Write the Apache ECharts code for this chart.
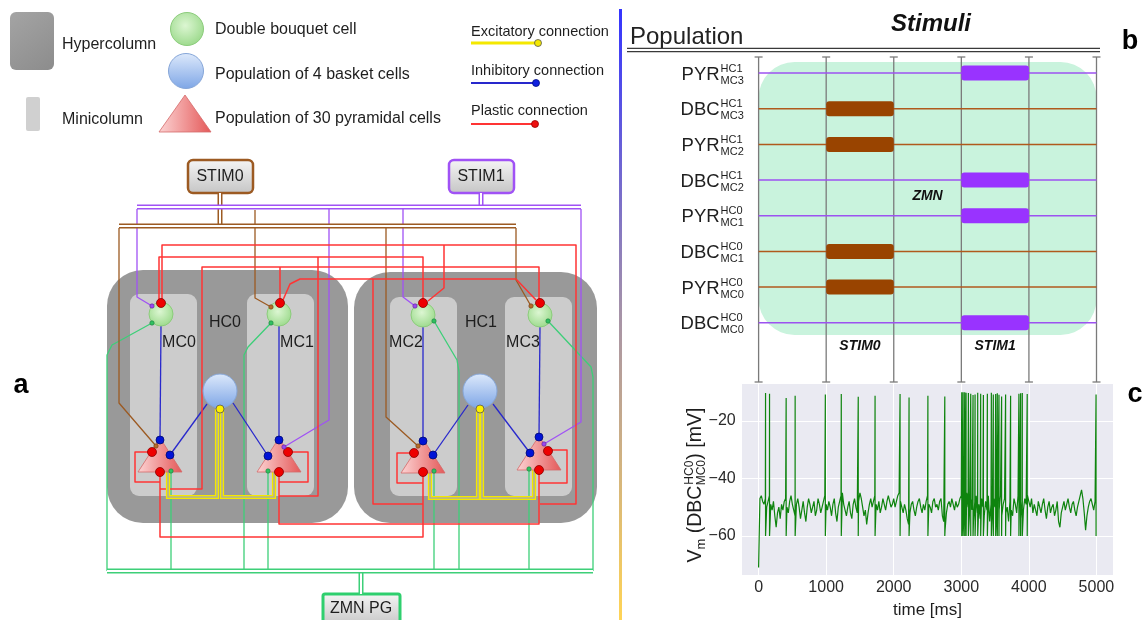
<!DOCTYPE html>
<html><head><meta charset="utf-8">
<script src="https://cdn.jsdelivr.net/npm/echarts@6/dist/echarts.min.js"></script>
<style>html,body{margin:0;padding:0;background:#fff}#c{width:1144px;height:620px}</style>
</head><body><div id="c"></div>
<script>
// ================= DATA =================
// ---- Panel b: stimulation protocol ----
const timeTicks = [0, 1000, 2000, 3000, 4000, 5000];
const rowPopulation = ['PYR', 'DBC', 'PYR', 'DBC', 'PYR', 'DBC', 'PYR', 'DBC'];
const rowHC = ['HC1', 'HC1', 'HC1', 'HC1', 'HC0', 'HC0', 'HC0', 'HC0'];
const rowMC = ['MC3', 'MC3', 'MC2', 'MC2', 'MC1', 'MC1', 'MC0', 'MC0'];
const rowStimulus = [1, 0, 0, 1, 1, 0, 0, 1];          // 0 = STIM0, 1 = STIM1
const stimNames = ['STIM0', 'STIM1'];
const stimStart = [1000, 3000];
const stimEnd = [2000, 4000];
const zmnSpan = [0, 5000];

// ---- Panel c: membrane potential of DBC HC0 MC0 ----
const baselineStepMs = 20;
const vmBaseline = [
  -71,-47,-46,-48,-49,-47,-50,-48,-46,-49, -51,-48,-53,-57,-52,-50,-54,-49,-51,-48,
  -47,-50,-52,-48,-46,-49,-51,-53,-49,-47, -50,-54,-51,-48,-52,-55,-50,-47,-49,-52,
  -50,-48,-53,-51,-47,-49,-52,-50,-48,-46,
  -49,-51,-48,-50,-53,-49,-47,-52,-55,-50, -48,-46,-45,-49,-51,-53,-50,-48,-52,-54,
  -49,-47,-50,-52,-48,-45,-47,-50,-53,-51, -56,-52,-49,-47,-50,-48,-46,-49,-51,-48,
  -52,-50,-47,-49,-51,-48,-46,-48,-50,-49,
  -47,-50,-48,-46,-45,-48,-50,-52,-49,-51, -54,-56,-52,-49,-48,-51,-53,-50,-48,-47,
  -50,-52,-49,-51,-48,-46,-49,-50,-52,-48, -47,-50,-49,-51,-48,-47,-53,-55,-58,-52,
  -49,-48,-50,-47,-49,-51,-48,-50,-49,-47,
  -46,-49,-52,-48,-45,-50,-53,-47,-51,-55, -48,-46,-52,-49,-54,-47,-50,-53,-48,-51,
  -46,-55,-49,-52,-47,-50,-54,-48,-51,-46, -53,-49,-47,-52,-50,-55,-48,-51,-53,-47,
  -49,-52,-46,-50,-54,-48,-51,-47,-49,-46,
  -48,-50,-47,-52,-49,-51,-53,-48,-50,-52, -49,-47,-51,-54,-50,-48,-52,-50,-49,-53,
  -51,-48,-55,-57,-52,-50,-48,-51,-49,-47, -50,-52,-49,-48,-51,-53,-50,-48,-46,-44,
  -47,-52,-58,-53,-50,-48,-47,-49,-51,-48
];
const spikeTimes = [103, 162, 408, 541, 988, 1224, 1475, 1724, 2094, 2227, 2506, 2756,
  3007, 3027, 3051, 3071, 3105, 3140, 3174, 3204, 3243, 3287, 3327, 3386, 3445, 3474,
  3509, 3533, 3558, 3597, 3656, 3730, 3853, 3878, 3903, 3976, 4995];
const spikePeaks = [-10.3, -10.5, -12, -11.2, -10.8, -10.6, -11.6, -11.2, -10.6, -11.8, -11.2, -11.5,
  -10, -10, -10, -10.2, -10.3, -10.5, -11, -10.8, -10.2, -10.5, -11, -10.5, -10.2, -10.8,
  -10.6, -10.4, -10.9, -11.5, -10.8, -11.2, -10.5, -10.4, -10.3, -10.6, -10.8];
const spikeReset = -60;
const vmTicks = [-20, -40, -60];

// ---- Panel a: network diagram geometry (page pixel frame) ----
const hypercolumnBoxes = [[107,270,241,253],[354,272,243,251]];
const minicolumnBoxes = [[130,294,67,202],[247,294,67,202],[390,297,67,199],[505,297,67,199]];
const dbcCells = [[161,314],[279,314],[423,315],[540,315]];
const basketCells = [[220,391],[480,391]];
const pyramidalApexes = [[160,438],[279,438],[423,439],[539,436]];
const stimBoxes = [[188,160,65,33],[449,160,65,33]];
const zmnBoxes = [[323,594,77,32]];

const stim0Bus = [[[220,193],[220,226]], [[119,226],[516,226]]];
const stim1Bus = [[[481,193],[481,207]], [[137,207],[581,207]]];
const zmnBus = [[[361,571],[361,594]], [[107,571],[593,571]]];
const stim0Wires = [
  [[119,228],[119,403],[156,446]],
  [[255,210],[255,298],[271,307]],
  [[386,228],[386,417],[418,446]],
  [[516,228],[516,280],[531,306]]
];
const stim1Wires = [
  [[137,209],[137,297],[152,306]],
  [[329,209],[329,420],[284,447]],
  [[403,209],[403,297],[415,306]],
  [[581,209],[581,422],[544,444]]
];
const excitatoryWires = [
  [[168,472],[168,497],[217,497],[217,409]],
  [[274,472],[274,497],[222,497],[222,409]],
  [[430,472],[430,498],[478,498],[478,409]],
  [[534,470],[534,498],[482,498],[482,409]]
];
const inhibitoryWires = [
  [[161,326],[160,440]], [[279,326],[279,440]], [[423,327],[423,441]], [[540,327],[539,437]],
  [[207,404],[170,455]], [[233,403],[268,456]], [[468,405],[433,455]], [[493,404],[530,453]]
];
const plasticWires = [
  [[162,303],[162,245],[576,245],[576,504],[540,504]],
  [[444,245],[444,288],[428,301]],
  [[159,303],[159,257],[423,257],[423,303]],
  [[318,257],[318,496],[279,496]],
  [[160,489],[202,489],[202,267],[539,267],[539,303]],
  [[280,267],[280,303]],
  [[423,504],[373,504],[373,279],[516,279],[536,300]],
  [[373,279],[300,279],[290,284],[283,300]],
  [[160,472],[160,537],[423,537],[423,472]],
  [[279,472],[279,524],[539,524],[539,470]],
  [[152,452],[135,452],[135,482],[160,482]],
  [[288,452],[308,452],[308,482],[279,482]],
  [[414,453],[397,453],[397,483],[423,483]],
  [[548,450],[567,450],[567,483],[539,483]]
];
const zmnWires = [
  [[152,323],[112,345],[107,355],[107,571]],
  [[171,471],[171,571]],
  [[271,323],[248,347],[244,355],[244,571]],
  [[268,471],[268,571]],
  [[434,471],[434,571]],
  [[434,321],[457,360],[459,372],[459,571]],
  [[529,469],[529,571]],
  [[548,321],[591,367],[593,377],[593,571]]
];
const plasticSynapses = [[161,303],[280,303],[423,303],[540,303],[152,452],[160,472],[288,452],[279,472],[414,453],[423,472],[548,451],[539,470]];
const inhibitorySynapses = [[160,440],[170,455],[279,440],[268,456],[423,441],[433,455],[539,437],[530,453]];
const excitatorySynapses = [[220,409],[480,409]];
const zmnTerminals = [[152,323],[271,323],[434,321],[548,321],[171,471],[268,471],[434,471],[529,469]];
const stim0Terminals = [[156,446],[271,307],[418,446],[531,306]];
const stim1Terminals = [[152,306],[284,447],[415,306],[544,444]];

// legend
const legendHypercolumn = [[10,12,44,58]];
const legendMinicolumn = [[26,97,14,34]];
const legendDbc = [[187,29]];
const legendBasket = [[186,71]];
const legendPyramidal = [[185,95]];
const legendExcitatory = [[[471,43],[538,43]]];
const legendInhibitory = [[[471,83],[536,83]]];
const legendPlastic = [[[471,124],[535,124]]];
const legendLabels = [['Hypercolumn',62,45],['Minicolumn',62,120],['Double bouquet cell',215,30],
  ['Population of 4 basket cells',215,75],['Population of 30 pyramidal cells',215,119]];
const connectionLabels = [['Excitatory connection',471,32],['Inhibitory connection',471,71],['Plastic connection',471,111]];
const nodeLabels = [['STIM0',220,177],['STIM1',481,177],['HC0',225,323],['HC1',481,323],
  ['MC0',179,343],['MC1',297,343],['MC2',406,343],['MC3',523,343],['ZMN PG',361,609]];
const panelLetters = [['a',21,386],['b',1130,42],['c',1135,395]];
const headerTitle = [['Population',630,37]];
const headerStimuli = [['Stimuli',931,24]];
const headerRule = [[[627,50],[1100,50]]];
const separatorBar = [[619,9,3,611]];

// ================= STYLE =================
const FF = '"Liberation Sans", Arial, Helvetica, sans-serif';
const font = (s, w, st) => (st || 'normal') + ' ' + (w || 'normal') + ' ' + s + 'px ' + FF;
const C = {
  plastic: '#ff3434', inhib: '#2828cc', zmn: '#3dcf78', stim0: '#9c5a22', stim1: '#a052f5',
  excit: '#f4e800', hc: '#999999', mc: '#cccccc', text: '#1e1e1e'
};
const BROWN_BAR = '#994400', PURPLE_BAR = '#9933ff', BROWN_LINE = '#b0591c', PURPLE_LINE = '#9c52f0';
const bRowAxis = [-0.45, 8.66];
const zmnRowExtent = [-0.31, 7.34];

// ================= BUILD =================
const tracePoints = [];
let si = 0;
for (let i = 0; i < vmBaseline.length; i++) {
  const t = i * baselineStepMs;
  while (si < spikeTimes.length && spikeTimes[si] <= t) {
    tracePoints.push([spikeTimes[si], spikePeaks[si]]);
    tracePoints.push([spikeTimes[si], spikeReset]);
    si++;
  }
  tracePoints.push([t, vmBaseline[i]]);
}
while (si < spikeTimes.length) {
  tracePoints.push([spikeTimes[si], spikePeaks[si]]);
  tracePoints.push([spikeTimes[si], spikeReset]);
  si++;
}

function overlay(items, render, z) {
  return { type: 'custom', coordinateSystem: 'cartesian2d', xAxisIndex: 2, yAxisIndex: 2, z: z,
    silent: true, clip: false, data: items.map(() => [0, 0]),
    renderItem: (params, api) => render(items[params.dataIndex], api) };
}
const P = (api, p) => api.coord(p);
const rectR = (fill, stroke, lw, r) => (b, api) => {
  const a = P(api, [b[0], b[1]]), c = P(api, [b[0] + b[2], b[1] + b[3]]);
  return { type: 'rect', shape: { x: a[0], y: a[1], width: c[0] - a[0], height: c[1] - a[1], r: r },
    style: { fill: fill, stroke: stroke, lineWidth: lw } };
};
const wire = (color, w) => (pts, api) => ({ type: 'polyline', shape: { points: pts.map(p => P(api, p)) },
  style: { stroke: color, lineWidth: w, fill: 'none', lineJoin: 'round', lineCap: 'butt' } });
const dwire = (color, w, inner, iw) => (pts, api) => {
  const pp = pts.map(p => P(api, p));
  return { type: 'group', children: [
    { type: 'polyline', shape: { points: pp }, style: { stroke: color, lineWidth: w, fill: 'none', lineJoin: 'miter' } },
    { type: 'polyline', shape: { points: pp }, style: { stroke: inner, lineWidth: iw, fill: 'none', lineJoin: 'miter' } }
  ] };
};
const dot = (fill, stroke, r, lw) => (p, api) => {
  const q = P(api, p);
  return { type: 'circle', shape: { cx: q[0], cy: q[1], r: r }, style: { fill: fill, stroke: stroke, lineWidth: lw || 0.8 } };
};
const dbcFill = { type: 'radial', x: 0.45, y: 0.4, r: 0.65, colorStops: [{ offset: 0, color: '#dcf6d2' }, { offset: 1, color: '#98d888' }] };
const basketFill = { type: 'linear', x: 0, y: 0, x2: 0, y2: 1, colorStops: [{ offset: 0, color: '#dde9fb' }, { offset: 1, color: '#7ea6e6' }] };
const pyrFill = { type: 'linear', x: 0, y: 0, x2: 1, y2: 0, colorStops: [{ offset: 0, color: '#fcd4d4' }, { offset: 1, color: '#e45858' }] };
const boxFill = { type: 'linear', x: 0, y: 0, x2: 0, y2: 1, colorStops: [{ offset: 0, color: '#f6f6f6' }, { offset: 1, color: '#c4c4c4' }] };
const hcFill = { type: 'linear', x: 0, y: 0, x2: 1, y2: 1, colorStops: [{ offset: 0, color: '#a4a4a4' }, { offset: 1, color: '#8c8c8c' }] };
const tri = (hw, h) => (p, api) => {
  const a = P(api, p), l = P(api, [p[0] - hw, p[1] + h]), r = P(api, [p[0] + hw, p[1] + h]);
  return { type: 'polygon', shape: { points: [a, l, r] }, style: { fill: pyrFill, stroke: '#d46a6a', lineWidth: 0.8, lineJoin: 'round' } };
};
const circ = (fill, stroke, r) => (p, api) => {
  const q = P(api, p);
  return { type: 'circle', shape: { cx: q[0], cy: q[1], r: r }, style: { fill: fill, stroke: stroke, lineWidth: 1 } };
};
const txt = (f, align, color, va) => (t, api) => {
  const q = P(api, [t[1], t[2]]);
  return { type: 'text', x: q[0], y: q[1], style: { text: t[0], font: f, fill: color || C.text, align: align, verticalAlign: va || 'middle' } };
};

const series = [];

// ---- overlay: panel a ----
series.push(overlay(separatorBar, (b, api) => {
  const a = P(api, [b[0], b[1]]), c = P(api, [b[0] + b[2], b[1] + b[3]]);
  return { type: 'rect', shape: { x: a[0], y: a[1], width: c[0] - a[0], height: c[1] - a[1] },
    style: { fill: { type: 'linear', x: 0, y: 0, x2: 0, y2: 1, colorStops: [
      { offset: 0, color: '#3434ff' }, { offset: 0.5, color: '#a693a8' }, { offset: 1, color: '#ffd456' }] } } };
}, 5));
series.push(overlay(legendHypercolumn, rectR(hcFill, null, 0, 6), 5));
series.push(overlay(legendMinicolumn, rectR('#d0d0d0', null, 0, 2), 5));
series.push(overlay(hypercolumnBoxes, rectR(C.hc, null, 0, 36), 5));
series.push(overlay(minicolumnBoxes, rectR(C.mc, null, 0, 9), 6));
series.push(overlay(stimBoxes.slice(0, 1), rectR(boxFill, C.stim0, 2.5, 5), 8));
series.push(overlay(stimBoxes.slice(1, 2), rectR(boxFill, C.stim1, 2.5, 5), 8));
series.push(overlay(zmnBoxes, rectR(boxFill, '#2fcf6e', 3, 2), 8));

series.push(overlay(zmnWires, wire(C.zmn, 1.3), 9));
series.push(overlay(stim0Wires, wire(C.stim0, 1.3), 9));
series.push(overlay(stim1Wires, wire(C.stim1, 1.3), 9));
series.push(overlay(inhibitoryWires, wire(C.inhib, 1.3), 9));
series.push(overlay(plasticWires, wire(C.plastic, 1.5), 10));
series.push(overlay(excitatoryWires, dwire(C.excit, 4.2, '#b0b09a', 1.6), 10));
series.push(overlay(stim0Bus, dwire(C.stim0, 5, '#ffffff', 2), 10));
series.push(overlay(stim1Bus, dwire(C.stim1, 5, '#ffffff', 2), 10));
series.push(overlay(zmnBus, dwire(C.zmn, 5, '#ffffff', 2), 10));

series.push(overlay(legendExcitatory, wire(C.excit, 3), 10));
series.push(overlay(legendInhibitory, wire(C.inhib, 2), 10));
series.push(overlay(legendPlastic, wire(C.plastic, 2), 10));
series.push(overlay(legendExcitatory.map(l => l[1]), dot(C.excit, '#555', 3.5), 12));
series.push(overlay(legendInhibitory.map(l => l[1]), dot('#1020e0', '#001080', 3.5), 12));
series.push(overlay(legendPlastic.map(l => l[1]), dot('#ee1010', '#900', 3.5), 12));

series.push(overlay(dbcCells, circ(dbcFill, '#8ccc7c', 12), 11));
series.push(overlay(legendDbc, circ(dbcFill, '#8ccc7c', 16.5), 11));
series.push(overlay(basketCells, circ(basketFill, '#86a6d8', 17), 11));
series.push(overlay(legendBasket, circ(basketFill, '#86a6d8', 17.5), 11));
series.push(overlay(pyramidalApexes, tri(22, 34), 11));
series.push(overlay(legendPyramidal, tri(26, 37), 11));

series.push(overlay(plasticSynapses, dot('#ee0000', '#8a0000', 4.5), 12));
series.push(overlay(inhibitorySynapses, dot('#0012d6', '#000a70', 4), 12));
series.push(overlay(excitatorySynapses, dot('#fff000', '#555', 4), 12));
series.push(overlay(zmnTerminals, dot('#30c060', '#1a7a3a', 2.2, 0.6), 12));
series.push(overlay(stim0Terminals, dot('#b86a28', '#6a3a10', 2.2, 0.6), 12));
series.push(overlay(stim1Terminals, dot('#9a48f0', '#5a2090', 2.2, 0.6), 12));

series.push(overlay(legendLabels, txt(font(16), 'left'), 13));
series.push(overlay(connectionLabels, txt(font(14.5), 'left'), 13));
series.push(overlay(nodeLabels, txt(font(16), 'center'), 13));
series.push(overlay(panelLetters, txt(font(27, 'bold'), 'center', '#000'), 13));
series.push(overlay(headerTitle, txt(font(24), 'left', '#222'), 13));
series.push(overlay(headerStimuli, txt(font(24, 'bold', 'italic'), 'center', '#111'), 13));
series.push(overlay(headerRule, dwire('#3a3a3a', 4.4, '#ffffff', 1.8), 13));

// ---- panel b ----
const bSeries = (data, render, z) => ({ type: 'custom', coordinateSystem: 'cartesian2d', xAxisIndex: 0, yAxisIndex: 0,
  z: z, silent: true, clip: false, data: data, renderItem: render });
series.push(bSeries([[zmnSpan[0], 0]], (params, api) => {
  const a = api.coord([zmnSpan[0], zmnRowExtent[0]]), c = api.coord([zmnSpan[1], zmnRowExtent[1]]);
  return { type: 'rect', shape: { x: a[0], y: a[1], width: c[0] - a[0], height: c[1] - a[1], r: 36 },
    style: { fill: '#c9f3dd' } };
}, 1));
series.push(bSeries(timeTicks.map(t => [t, 0]), (params, api) => {
  const t = api.value(0);
  const a = api.coord([t, bRowAxis[0]]), c = api.coord([t, bRowAxis[1]]);
  const st = { stroke: '#7a7a7a', lineWidth: 1.3 };
  return { type: 'group', children: [
    { type: 'line', shape: { x1: a[0], y1: a[1], x2: c[0], y2: c[1] }, style: st },
    { type: 'line', shape: { x1: a[0] - 4, y1: a[1], x2: a[0] + 4, y2: a[1] }, style: st },
    { type: 'line', shape: { x1: c[0] - 4, y1: c[1], x2: c[0] + 4, y2: c[1] }, style: st }
  ] };
}, 2));
series.push(bSeries(rowPopulation.map((_, i) => [0, i]), (params, api) => {
  const i = params.dataIndex;
  const a = api.coord([zmnSpan[0], i]), c = api.coord([zmnSpan[1], i]);
  return { type: 'line', shape: { x1: a[0], y1: a[1], x2: c[0], y2: c[1] },
    style: { stroke: rowStimulus[i] ? PURPLE_LINE : BROWN_LINE, lineWidth: 1.5 } };
}, 3));
series.push(bSeries(rowPopulation.map((_, i) => [0, i]), (params, api) => {
  const i = params.dataIndex, s = rowStimulus[i];
  const a = api.coord([stimStart[s], i]), c = api.coord([stimEnd[s], i]);
  return { type: 'rect', shape: { x: a[0], y: a[1] - 7.5, width: c[0] - a[0], height: 15, r: 3 },
    style: { fill: s ? PURPLE_BAR : BROWN_BAR } };
}, 4));
series.push(bSeries(rowPopulation.map((_, i) => [0, i]), (params, api) => {
  const i = params.dataIndex;
  const p = api.coord([zmnSpan[0], i]);
  const xr = p[0] - 39;
  return { type: 'group', children: [
    { type: 'text', x: xr, y: p[1] + 1.5, style: { text: rowPopulation[i], font: font(18.5), fill: '#1e1e1e', align: 'right', verticalAlign: 'middle' } },
    { type: 'text', x: xr + 1, y: p[1] - 4.5, style: { text: rowHC[i], font: font(11), fill: '#1e1e1e', align: 'left', verticalAlign: 'middle' } },
    { type: 'text', x: xr + 1, y: p[1] + 7.5, style: { text: rowMC[i], font: font(11), fill: '#1e1e1e', align: 'left', verticalAlign: 'middle' } }
  ] };
}, 5));
const bAnnotations = [['ZMN', (zmnSpan[0] + zmnSpan[1]) / 2, 3.45],
  [stimNames[0], (stimStart[0] + stimEnd[0]) / 2, 7.65], [stimNames[1], (stimStart[1] + stimEnd[1]) / 2, 7.65]];
series.push(bSeries(bAnnotations.map(a => [a[1], a[2]]), (params, api) => {
  const a = bAnnotations[params.dataIndex];
  const q = api.coord([a[1], a[2]]);
  return { type: 'text', x: q[0], y: q[1], style: { text: a[0], font: font(14, 'bold', 'italic'), fill: '#111', align: 'center', verticalAlign: 'middle' } };
}, 5));

// ---- panel c ----
series.push({ type: 'line', xAxisIndex: 1, yAxisIndex: 1, data: tracePoints, showSymbol: false, symbol: 'none',
  silent: true, clip: true, z: 3, lineStyle: { color: '#0e840e', width: 1.2 } });

const minus = v => (v < 0 ? '\u2212' + Math.abs(v) : String(v));
const tr = 'rgba(0,0,0,0)';
const yName = '{ha|V}{hs|m}{ha| (DBC}{slot|HC0}{ha|) [mV]}\n' +
              '{a|V}{hs|m}{a| (DBC}{hslot|MC0}{a|) [mV]}\n' +
              '{ha|V}{s|m}{ha| (DBC}{slot|MC0}{ha|) [mV]}';

const option = {
  animation: false,
  backgroundColor: '#ffffff',
  grid: [
    { left: 758.6, right: 47.5, top: 57, bottom: 238 },
    { left: 741.7, right: 30.7, top: 383.3, bottom: 40.7, show: true, backgroundColor: '#eaeaf2', borderWidth: 0 },
    { left: 0, right: 0, top: 0, bottom: 0 }
  ],
  xAxis: [
    { gridIndex: 0, type: 'value', min: zmnSpan[0], max: zmnSpan[1], show: false },
    { gridIndex: 1, type: 'value', min: -250, max: 5250, splitNumber: 5,
      axisLine: { show: false }, axisTick: { show: false },
      splitLine: { show: true, lineStyle: { color: '#ffffff', width: 1 } },
      axisLabel: { fontSize: 16, color: '#2a2a2a', fontFamily: FF, margin: 5, showMinLabel: false, showMaxLabel: false,
        formatter: v => (timeTicks.indexOf(v) >= 0 ? String(v) : '') },
      name: 'time [ms]', nameLocation: 'middle', nameGap: 27, nameMoveOverlap: false,
      nameTextStyle: { fontSize: 17, color: '#1e1e1e', fontFamily: FF } },
    { gridIndex: 2, type: 'value', min: 0, max: 1144, show: false }
  ],
  yAxis: [
    { gridIndex: 0, type: 'value', min: bRowAxis[0], max: bRowAxis[1], inverse: true, show: false },
    { gridIndex: 1, type: 'value', min: -73.6, max: -6.9, splitNumber: 3,
      axisLine: { show: false }, axisTick: { show: false },
      splitLine: { show: true, lineStyle: { color: '#ffffff', width: 1 } },
      axisLabel: { fontSize: 16, color: '#2a2a2a', fontFamily: FF, margin: 6, showMinLabel: false, showMaxLabel: false,
        formatter: v => (vmTicks.indexOf(v) >= 0 ? minus(v) : '') },
      name: yName, nameLocation: 'middle', nameRotate: 90, nameGap: 37, nameMoveOverlap: false,
      nameTextStyle: { fontFamily: FF, color: '#1e1e1e', align: 'center', padding: [0, 12, 0, 0],
        rich: {
          a: { fontSize: 19.5, lineHeight: 6, color: '#1e1e1e', fontFamily: FF },
          ha: { fontSize: 19.5, lineHeight: 6, color: tr, fontFamily: FF },
          s: { fontSize: 13, lineHeight: 6, color: '#1e1e1e', fontFamily: FF },
          hs: { fontSize: 13, lineHeight: 6, color: tr, fontFamily: FF },
          slot: { fontSize: 12, lineHeight: 6, width: 26, color: '#1e1e1e', fontFamily: FF },
          hslot: { fontSize: 12, lineHeight: 6, width: 26, color: tr, fontFamily: FF }
        } } },
    { gridIndex: 2, type: 'value', min: 0, max: 620, inverse: true, show: false }
  ],
  series: series
};
const chart = echarts.init(document.getElementById('c'));
chart.setOption(option);
</script>
</body></html>
